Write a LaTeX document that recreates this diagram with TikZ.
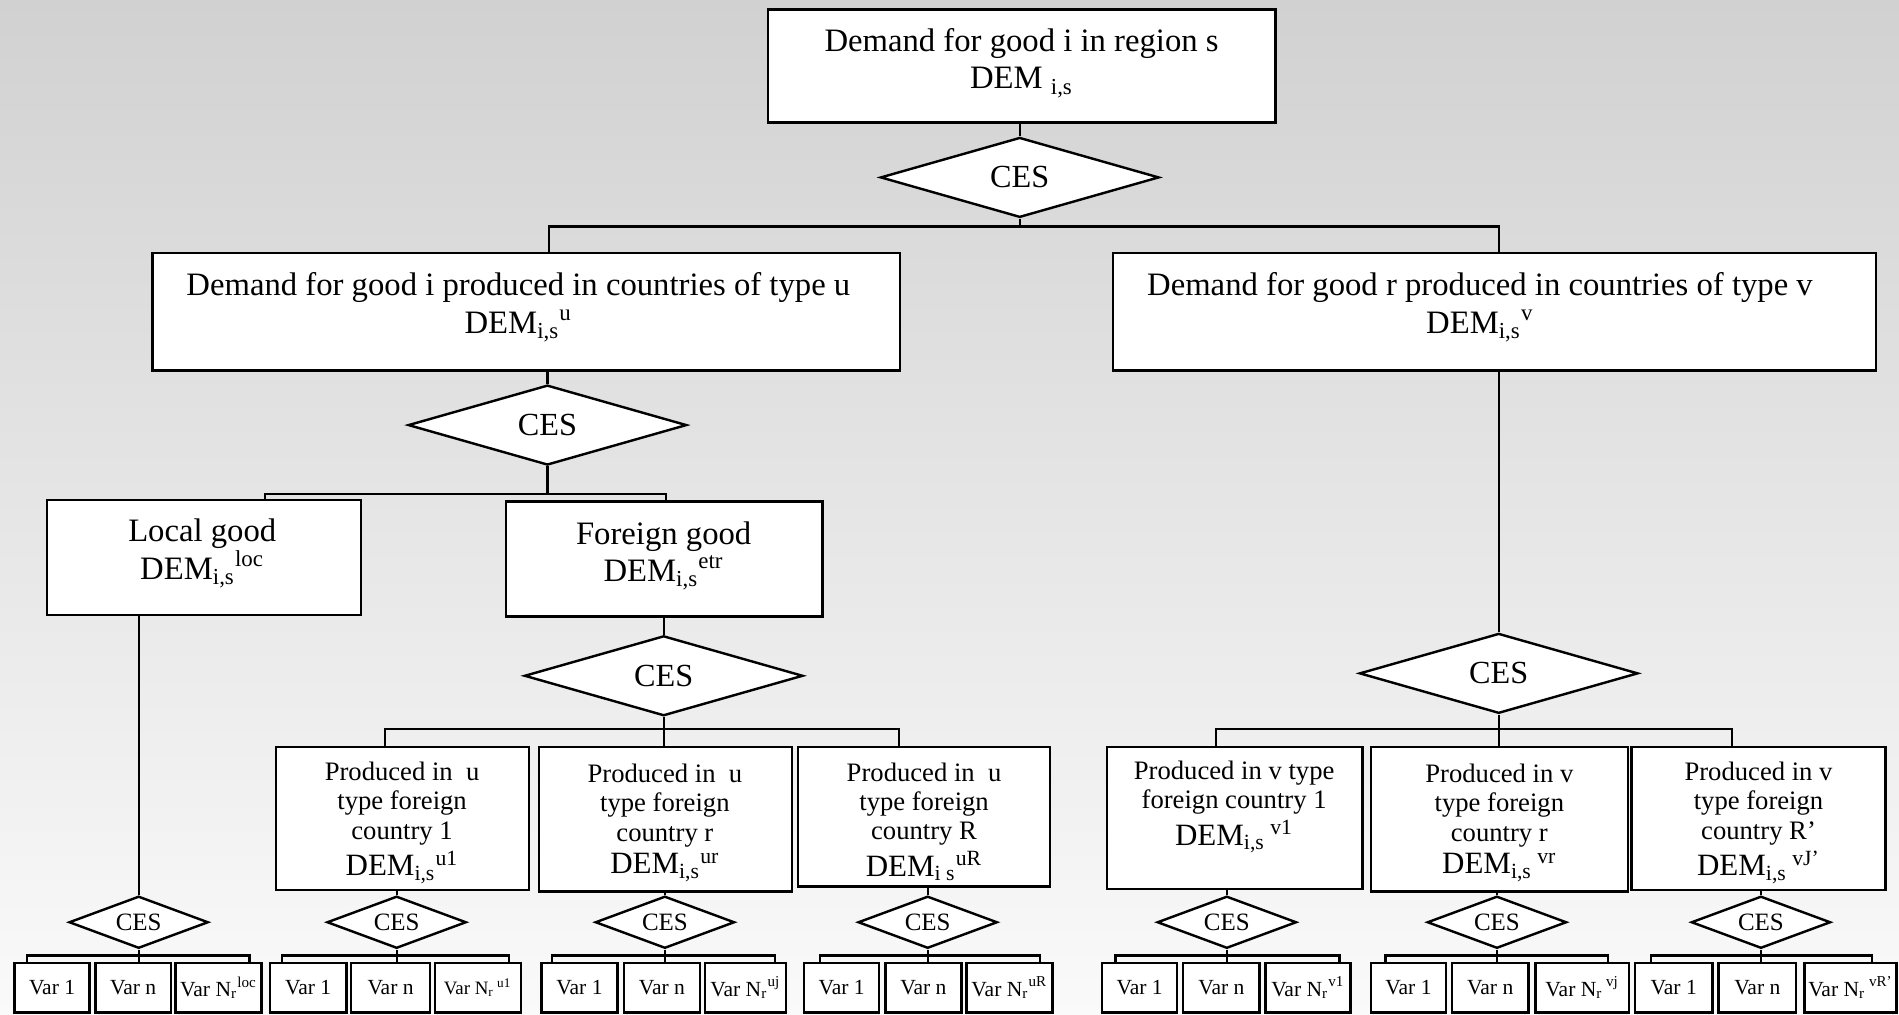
\documentclass[tikz,border=0pt]{standalone}
\usepackage{fontspec}
\setmainfont{Liberation Serif}
\usetikzlibrary{shapes.geometric}
\begin{document}
\begin{tikzpicture}[x=0.5pt,y=-0.5pt,
  box/.style={draw, line width=1pt, fill=white, inner sep=0pt},
  conn/.style={line width=0.9pt},
  bigtxt/.style={align=center, inner sep=0pt, font=\fontsize{13.5}{15.5}\selectfont},
  prodtxt/.style={align=center, inner sep=0pt, font=\fontsize{11}{12}\selectfont},
  vartxt/.style={inner sep=0pt, font=\fontsize{8.9}{10}\selectfont},
  bigdia/.style={draw, diamond, aspect=3, line width=1pt, fill=white, inner sep=0pt,
    minimum width=115pt, minimum height=33pt, font=\fontsize{13.3}{15}\selectfont},
  smalldia/.style={draw, diamond, aspect=3, line width=1pt, fill=white, inner sep=0pt,
    minimum width=57.5pt, minimum height=21.5pt, font=\fontsize{10.3}{12}\selectfont},
  varbox/.style={draw, line width=1pt, fill=white, inner sep=0pt, minimum height=20.5pt}
]
\newcommand\demfont{\fontsize{12.8}{14}\selectfont}
\useasboundingbox (0,0) rectangle (1568,838);
\shade[top color=black!18, bottom color=black!2] (0,0) rectangle (1568,838);

% ---------- level 0
\node[box, minimum width=209.5pt, minimum height=46.5pt] (top) at (843.5,54.5) {};
\node[bigtxt] (topT) at (843.5,52) {Demand for good i in region s\\DEM \textsubscript{i,s}};
\node[bigdia] (D0) at (842,146.5) {CES};

% ---------- level 1
\node[box, minimum width=308.5pt, minimum height=48.5pt] (ubox) at (434.5,257.5) {};
\node[bigtxt] (uT) at (428,254) {Demand for good i produced in countries of type u\\DEM\textsubscript{i,s}\textsuperscript{u}};
\node[box, minimum width=315pt, minimum height=48.5pt] (vbox) at (1234,257.5) {};
\node[bigtxt] (vT) at (1222,254) {Demand for good r produced in countries of type v\\DEM\textsubscript{i,s}\textsuperscript{v}};

\node[bigdia] (Du) at (452,351) {CES};
\node[bigdia] (Dv) at (1237.5,556) {CES};

% ---------- level 2
\node[box, minimum width=129.5pt, minimum height=47.5pt] (Lbox) at (168.5,460.5) {};
\node[bigtxt] (LT) at (167,457) {Local good\\DEM\textsubscript{i,s}\textsuperscript{loc}};
\node[box, minimum width=130.5pt, minimum height=47.5pt] (Fbox) at (548.5,461.5) {};
\node[bigtxt] (FT) at (548,459) {Foreign good\\DEM\textsubscript{i,s}\textsuperscript{etr}};
\node[bigdia] (Df) at (548,558) {CES};

% ---------- level 3
\node[box, minimum width=104.5pt, minimum height=59pt] (Pu1) at (332.5,676) {};
\node[prodtxt] (Pu1T) at (332,679.5) {Produced in\ \ u\\type foreign\\country 1\\[1.5pt]{\demfont DEM\textsubscript{i,s}\textsuperscript{u1}}};
\node[box, minimum width=104.5pt, minimum height=59.5pt] (Pu2) at (549.5,676.5) {};
\node[prodtxt] (Pu2T) at (549,679.5) {Produced in\ \ u\\type foreign\\country r\\[1.5pt]{\demfont DEM\textsubscript{i,s}\textsuperscript{ur}}};
\node[box, minimum width=104pt, minimum height=57.5pt] (Pu3) at (763,674.5) {};
\node[prodtxt] (Pu3T) at (763,678.5) {Produced in\ \ u\\type foreign\\country R\\[1.5pt]{\demfont DEM\textsubscript{i s}\textsuperscript{uR}}};

\node[box, minimum width=105.5pt, minimum height=58.5pt] (Pv1) at (1019.5,675.5) {};
\node[prodtxt] (Pv1T) at (1019,666.5) {Produced in v type\\foreign country 1\\[1.5pt]{\demfont DEM\textsubscript{i,s}\,\textsuperscript{v1}}};
\node[box, minimum width=106pt, minimum height=59.5pt] (Pv2) at (1238,676.5) {};
\node[prodtxt] (Pv2T) at (1238,679.5) {Produced in v\\type foreign\\country r\\[1.5pt]{\demfont DEM\textsubscript{i,s}\,\textsuperscript{vr}}};
\node[box, minimum width=105pt, minimum height=59pt] (Pv3) at (1452,676) {};
\node[prodtxt] (Pv3T) at (1452,679.5) {Produced in v\\type foreign\\country R’\\[1.5pt]{\demfont DEM\textsubscript{i,s}\,\textsuperscript{vJ’}}};

% ---------- small diamonds
\node[smalldia] (S0) at (114.5,761.5) {CES};
\node[smalldia] (S1) at (327.5,761.5) {CES};
\node[smalldia] (S2) at (549,761.5) {CES};
\node[smalldia] (S3) at (766,761.5) {CES};
\node[smalldia] (S4) at (1013,761.5) {CES};
\node[smalldia] (S5) at (1236,761.5) {CES};
\node[smalldia] (S6) at (1454,761.5) {CES};

% ---------- var boxes
\newcommand\vb[4]{\node[varbox, minimum width=#3pt, vartxt] (#1) at (#2,815.5) {#4};}
\vb{a1}{43}{31}{Var 1}\vb{a2}{110}{31}{Var n}\vb{a3}{180.5}{35.5}{Var N\textsubscript{r}\textsuperscript{loc}}
\vb{b1}{254.5}{31.5}{Var 1}\vb{b2}{322.5}{32.5}{Var n}\vb{b3}{394.5}{35.5}{{\fontsize{7.8}{9}\selectfont Var N\textsubscript{r}\,\textsuperscript{u1}}}
\vb{c1}{478.5}{31.5}{Var 1}\vb{c2}{546.5}{31.5}{Var n}\vb{c3}{615.5}{33.5}{Var N\textsubscript{r}\textsuperscript{uj}}
\vb{d1}{695}{31}{Var 1}\vb{d2}{762.5}{31.5}{Var n}\vb{d3}{833.5}{35.5}{Var N\textsubscript{r}\textsuperscript{uR}}
\vb{e1}{941}{31}{Var 1}\vb{e2}{1008.5}{31.5}{Var n}\vb{e3}{1080}{35}{Var N\textsubscript{r}\textsuperscript{v1}}
\vb{f1}{1163}{31}{Var 1}\vb{f2}{1230.5}{31.5}{Var n}\vb{f3}{1306.5}{38.5}{Var N\textsubscript{r}\,\textsuperscript{vj}}
\vb{g1}{1382}{32}{Var 1}\vb{g2}{1451}{32}{Var n}\vb{g3}{1528}{38}{Var N\textsubscript{r}\,\textsuperscript{vR’}}

% ---------- connectors
\draw[conn] (top.south -| D0.north) -- (D0.north);
\coordinate (t0L) at (453,187); \coordinate (t0R) at (1238,187);
\draw[conn] (D0.south) -- (D0.south |- t0L);
\draw[conn] (t0L |- ubox.north) -- (t0L) -- (t0R) -- (t0R |- vbox.north);

\draw[conn] (ubox.south -| Du.north) -- (Du.north);
\coordinate (t1L) at (219,408); \coordinate (t1R) at (550,408);
\draw[conn] (Du.south) -- (Du.south |- t1L);
\draw[conn] (t1L |- Lbox.north) -- (t1L) -- (t1R) -- (t1R |- Fbox.north);

\draw[conn] (Fbox.south -| Df.north) -- (Df.north);
\coordinate (t2L) at (318,602); \coordinate (t2R) at (742,602);
\draw[conn] (Df.south) -- (Df.south |- Pu2.north);
\draw[conn] (t2L |- Pu1.north) -- (t2L) -- (t2R) -- (t2R |- Pu3.north);

\draw[conn] (vbox.south -| Dv.north) -- (Dv.north);
\coordinate (t3L) at (1004,602); \coordinate (t3R) at (1430,602);
\draw[conn] (Dv.south) -- (Dv.south |- Pv2.north);
\draw[conn] (t3L |- Pv1.north) -- (t3L) -- (t3R) -- (t3R |- Pv3.north);

\draw[conn] (Lbox.south -| S0.north) -- (S0.north);
\draw[conn] (Pu1.south -| S1.north) -- (S1.north);
\draw[conn] (Pu2.south -| S2.north) -- (S2.north);
\draw[conn] (Pu3.south -| S3.north) -- (S3.north);
\draw[conn] (Pv1.south -| S4.north) -- (S4.north);
\draw[conn] (Pv2.south -| S5.north) -- (S5.north);
\draw[conn] (Pv3.south -| S6.north) -- (S6.north);

\newcommand\grp[6]{%
  \coordinate (#1L) at (#2,789); \coordinate (#1R) at (#3,789);
  \draw[conn] (#1.south) -- (#1.south |- #5.north);
  \draw[conn] (#1L |- #4.north) -- (#1L) -- (#1R) -- (#1R |- #6.north);}
\grp{S0}{22}{206}{a1}{a2}{a3}
\grp{S1}{233}{420}{b1}{b2}{b3}
\grp{S2}{456}{640}{c1}{c2}{c3}
\grp{S3}{677}{859}{d1}{d2}{d3}
\grp{S4}{921}{1106}{e1}{e2}{e3}
\grp{S5}{1144}{1328}{f1}{f2}{f3}
\grp{S6}{1363}{1546}{g1}{g2}{g3}
\end{tikzpicture}
\end{document}
